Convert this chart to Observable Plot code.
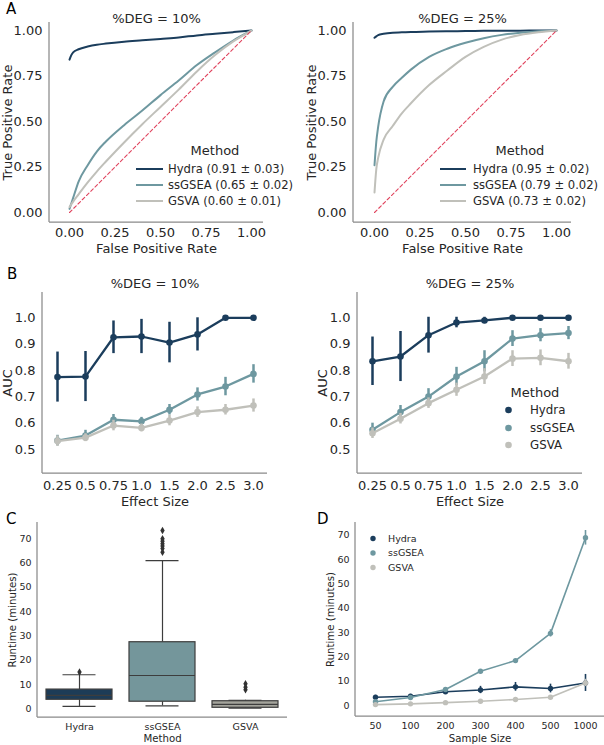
<!DOCTYPE html>
<html>
<head>
<meta charset="utf-8">
<script src="https://cdn.jsdelivr.net/npm/d3@7"></script>
<script src="https://cdn.jsdelivr.net/npm/@observablehq/plot@0.6"></script>
<style>
  html, body { margin: 0; padding: 0; background: #fff; }
  #fig { position: relative; width: 604px; height: 745px; overflow: hidden; font-family: "DejaVu Sans", sans-serif; }
  #fig > svg { position: absolute; left: 0; top: 0; }
</style>
</head>
<body>
<div id="fig"></div>
<script>
// ---------- shared categories & colours ----------
const methods = ["Hydra", "ssGSEA", "GSVA"];
const lineColors = ["#1b3d5c", "#6e98a0", "#c0c0ba"];
const boxFills = ["#1d3c57", "#74969b", "#a4a49c"];

// ---------- A: ROC curves (TPR read at a common FPR grid) ----------
const fprGrid = [0, 0.01, 0.02, 0.05, 0.1, 0.15, 0.2, 0.3, 0.4, 0.5, 0.6, 0.7, 0.8, 0.9, 1];
const tprHydra10  = [0.84, 0.865, 0.88, 0.897, 0.912, 0.922, 0.928, 0.938, 0.946, 0.954, 0.962, 0.973, 0.982, 0.991, 1];
const tprSsgsea10 = [0.02, 0.05, 0.08, 0.17, 0.26, 0.335, 0.39, 0.48, 0.56, 0.645, 0.725, 0.81, 0.88, 0.945, 1];
const tprGsva10   = [0.03, 0.045, 0.06, 0.1, 0.165, 0.225, 0.28, 0.385, 0.485, 0.58, 0.675, 0.775, 0.865, 0.94, 1];
const tprHydra25  = [0.96, 0.968, 0.975, 0.982, 0.988, 0.99, 0.992, 0.994, 0.996, 0.997, 0.998, 0.999, 0.999, 1, 1];
const tprSsgsea25 = [0.26, 0.39, 0.47, 0.61, 0.69, 0.74, 0.785, 0.855, 0.9, 0.933, 0.958, 0.976, 0.988, 0.996, 1];
const tprGsva25   = [0.11, 0.24, 0.3, 0.4, 0.475, 0.545, 0.6, 0.7, 0.78, 0.855, 0.91, 0.95, 0.975, 0.99, 1];
const chanceLine = [0, 1];
const aucMean10 = [0.91, 0.65, 0.60];
const aucSd10   = [0.03, 0.02, 0.01];
const aucMean25 = [0.95, 0.79, 0.73];
const aucSd25   = [0.02, 0.02, 0.02];
const rocTicks = [0, 0.25, 0.5, 0.75, 1];

// ---------- B: AUC vs effect size (mean and half-width of the error bar) ----------
const effectSizes = ["0.25", "0.5", "0.75", "1.0", "1.5", "2.0", "2.5", "3.0"];
const aucHydra10  = [0.775, 0.777, 0.926, 0.929, 0.906, 0.937, 1.0, 1.0];
const errHydra10  = [0.095, 0.095, 0.062, 0.065, 0.077, 0.063, 0.002, 0.002];
const aucSsgsea10 = [0.534, 0.553, 0.613, 0.607, 0.651, 0.709, 0.739, 0.787];
const errSsgsea10 = [0.02, 0.02, 0.02, 0.015, 0.02, 0.025, 0.035, 0.035];
const aucGsva10   = [0.532, 0.545, 0.591, 0.582, 0.61, 0.642, 0.651, 0.667];
const errGsva10   = [0.02, 0.015, 0.02, 0.015, 0.02, 0.02, 0.02, 0.025];
const aucHydra25  = [0.835, 0.853, 0.934, 0.982, 0.99, 1.0, 1.0, 1.0];
const errHydra25  = [0.092, 0.095, 0.068, 0.02, 0.012, 0.004, 0.002, 0.002];
const aucSsgsea25 = [0.575, 0.642, 0.701, 0.777, 0.835, 0.921, 0.934, 0.942];
const errSsgsea25 = [0.025, 0.025, 0.03, 0.035, 0.04, 0.03, 0.025, 0.025];
const aucGsva25   = [0.562, 0.617, 0.676, 0.727, 0.777, 0.845, 0.848, 0.835];
const errGsva25   = [0.02, 0.02, 0.02, 0.025, 0.03, 0.03, 0.03, 0.03];
const aucTicks = [0.5, 0.6, 0.7, 0.8, 0.9, 1.0];

// ---------- C: runtime box plot summary ----------
const boxQ1     = [3.7, 2.9, 0.4];
const boxMedian = [5.5, 13.7, 1.8];
const boxQ3     = [7.9, 27.4, 3.1];
const boxLow    = [0.95, 1.2, 0.3];
const boxHigh   = [14, 61, 3.5];
const outliersHydra  = [15.1];
const outliersSsgsea = [64.5, 66, 67, 68, 69, 70, 73.4];
const outliersGsva   = [7.8, 8.9, 10.3];
const runtimeTicks = [0, 10, 20, 30, 40, 50, 60, 70];

// ---------- D: runtime vs sample size ----------
const sampleSizes = ["50", "100", "200", "300", "400", "500", "1000"];
const runHydra  = [3.4, 3.8, 5.7, 6.4, 7.7, 7.0, 9.3];
const errRunHydra  = [0.8, 0.8, 0.8, 1.5, 1.8, 1.8, 3.5];
const runSsgsea = [1.6, 3.3, 6.6, 14.1, 18.5, 29.7, 69.0];
const errRunSsgsea = [0.3, 0.4, 0.6, 0.6, 0.6, 1.5, 3.0];
const runGsva   = [0.4, 0.7, 1.2, 1.8, 2.5, 3.4, 9.3];
const errRunGsva   = [0.1, 0.1, 0.2, 0.2, 0.3, 0.3, 1.5];

// ---------- helpers ----------
const textColor = "#262626";
const spineColor = "#8a8a8a";
const edgeColor = "#3d3d3d";
const chanceColor = "#e0445e";
const W = 604, H = 745;
const fmt2 = d3.format(".2f");
const fmt1 = d3.format(".1f");

const baseStyle = (size) => ({
  background: "transparent",
  fontFamily: "DejaVu Sans, sans-serif",
  fontSize: size + "px",
  color: textColor,
  overflow: "visible"
});

// centred text anchored to a side of the frame
const frameLabel = (str, frameAnchor, size, extra) =>
  Plot.text([str], {text: d => d, frameAnchor, textAnchor: "middle", lineAnchor: "middle",
    fontSize: size, fill: textColor, ...extra});

// left and bottom axis lines along the frame edges
const spines = () => (index, scales, values, dims) => {
  const {width, height, marginLeft, marginRight, marginTop, marginBottom} = dims;
  const g = d3.create("svg:g").attr("stroke", spineColor).attr("stroke-width", 1.25);
  g.append("line").attr("x1", marginLeft).attr("x2", marginLeft)
    .attr("y1", marginTop).attr("y2", height - marginBottom);
  g.append("line").attr("x1", marginLeft).attr("x2", width - marginRight)
    .attr("y1", height - marginBottom).attr("y2", height - marginBottom);
  return g.node();
};

// free-standing text in page coordinates
const pageText = (str, x, y, size, fill) => () =>
  d3.create("svg:text")
    .attr("x", x).attr("y", y).attr("dy", "0.35em")
    .attr("font-size", size).attr("fill", fill)
    .attr("text-anchor", "start")
    .text(str).node();

// legend: optional title plus one swatch (line or dot) and label per row
const legend = ({title, titleX, titleY, titleSize, labels, colors, rowsY, kind, x1, x2, textX, size, r}) => () => {
  const g = d3.create("svg:g").attr("font-size", size).attr("fill", textColor);
  if (title) g.append("text").attr("x", titleX).attr("y", titleY).attr("dy", "0.35em")
    .attr("font-size", titleSize).attr("text-anchor", "middle").text(title);
  labels.forEach((lab, i) => {
    const y = rowsY[i];
    if (kind === "line") {
      g.append("line").attr("x1", x1).attr("x2", x2).attr("y1", y).attr("y2", y)
        .attr("stroke", colors[i]).attr("stroke-width", 2);
    } else {
      g.append("circle").attr("cx", x1).attr("cy", y).attr("r", r).attr("fill", colors[i]);
    }
    g.append("text").attr("x", textX).attr("y", y).attr("dy", "0.35em")
      .attr("text-anchor", "start").text(lab);
  });
  return g.node();
};

const fig = document.getElementById("fig");
const color = {domain: methods, range: lineColors};

// ---------- panel A ----------
function rocPanel({curves, means, sds, margins, xDomain, title, legendPos}) {
  const rows = curves.flatMap((tpr, k) =>
    fprGrid.map((f, i) => ({method: methods[k], fpr: f, tpr: tpr[i]})));
  const labels = methods.map((m, i) => `${m} (${means[i].toFixed(2)} ± ${sds[i].toFixed(2)})`);
  return Plot.plot({
    width: W, height: H, ...margins,
    style: baseStyle(13),
    x: {domain: xDomain, ticks: rocTicks, tickFormat: fmt2, tickSize: 0, tickPadding: 5, label: null},
    y: {domain: [-0.055, 1.044], ticks: rocTicks, tickFormat: fmt2, tickSize: 0, tickPadding: 7, label: null},
    color,
    marks: [
      spines(),
      Plot.line(rows, {x: "fpr", y: "tpr", stroke: "method", z: "method", strokeWidth: 2, curve: "monotone-x"}),
      Plot.line(chanceLine, {x: d => d, y: d => d, stroke: chanceColor, strokeWidth: 1.1, strokeDasharray: "3.5,2.5"}),
      frameLabel(title, "top", 13, {dy: -4}),
      frameLabel("False Positive Rate", "bottom", 13, {dy: 26}),
      frameLabel("True Positive Rate", "left", 13, {rotate: -90, dx: -41.5}),
      legend({title: "Method", titleX: legendPos.titleX, titleY: 150, titleSize: 13, labels, colors: lineColors,
        rowsY: [169, 185, 201], kind: "line", x1: legendPos.x1, x2: legendPos.x2, textX: legendPos.textX, size: 11.6})
    ]
  });
}

fig.append(rocPanel({
  curves: [tprHydra10, tprSsgsea10, tprGsva10], means: aucMean10, sds: aucSd10,
  margins: {marginLeft: 49, marginRight: W - 263, marginTop: 22, marginBottom: H - 222},
  xDomain: [-0.1099, 1.066], title: "%DEG = 10%",
  legendPos: {titleX: 215, x1: 136, x2: 163, textX: 168}
}));
fig.append(rocPanel({
  curves: [tprHydra25, tprSsgsea25, tprGsva25], means: aucMean25, sds: aucSd25,
  margins: {marginLeft: 353, marginRight: W - 571, marginTop: 22, marginBottom: H - 222},
  xDomain: [-0.1154, 1.0824], title: "%DEG = 25%",
  legendPos: {titleX: 520, x1: 440, x2: 466, textX: 473}
}));

// ---------- panel B ----------
function aucPanel({series, margins, padding, title, withLegend}) {
  const rows = series.flatMap(([auc, err], k) =>
    effectSizes.map((e, i) => ({method: methods[k], effect: e, auc: auc[i], lo: auc[i] - err[i], hi: auc[i] + err[i]})));
  const marks = [spines()];
  methods.forEach(m => {
    const sub = rows.filter(d => d.method === m);
    marks.push(
      Plot.ruleX(sub, {x: "effect", y1: "lo", y2: "hi", stroke: "method", strokeWidth: 2.5}),
      Plot.line(sub, {x: "effect", y: "auc", stroke: "method", strokeWidth: 2.3}),
      Plot.dot(sub, {x: "effect", y: "auc", fill: "method", r: 3.3})
    );
  });
  marks.push(
    frameLabel(title, "top", 13, {dy: -9}),
    frameLabel("Effect Size", "bottom", 13, {dy: 28.5}),
    frameLabel("AUC", "left", 13, {rotate: -90, dx: -35})
  );
  if (withLegend) marks.push(legend({title: "Method", titleX: 535, titleY: 392, titleSize: 13, labels: methods,
    colors: lineColors, rowsY: [410, 428, 445], kind: "dot", x1: 508.5, textX: 530, size: 11.8, r: 3.3}));
  return Plot.plot({
    width: W, height: H, ...margins,
    style: baseStyle(13),
    x: {type: "point", domain: effectSizes, padding, tickSize: 0, tickPadding: 7, label: null},
    y: {domain: [0.409, 1.096], ticks: aucTicks, tickFormat: fmt1, tickSize: 0, tickPadding: 7, label: null},
    color,
    marks
  });
}

fig.append(aucPanel({
  series: [[aucHydra10, errHydra10], [aucSsgsea10, errSsgsea10], [aucGsva10, errGsva10]],
  margins: {marginLeft: 42, marginRight: W - 267, marginTop: 292, marginBottom: H - 473},
  padding: 0.45, title: "%DEG = 10%", withLegend: false
}));
fig.append(aucPanel({
  series: [[aucHydra25, errHydra25], [aucSsgsea25, errSsgsea25], [aucGsva25, errGsva25]],
  margins: {marginLeft: 357, marginRight: W - 582, marginTop: 292, marginBottom: H - 473},
  padding: 0.5, title: "%DEG = 25%", withLegend: true
}));

// ---------- panel C ----------
{
  const boxes = methods.map((m, i) => ({
    method: m, q1: boxQ1[i], median: boxMedian[i], q3: boxQ3[i], low: boxLow[i], high: boxHigh[i]
  }));
  const outliers = [
    ...outliersHydra.map(v => ({method: "Hydra", value: v})),
    ...outliersSsgsea.map(v => ({method: "ssGSEA", value: v})),
    ...outliersGsva.map(v => ({method: "GSVA", value: v}))
  ];
  fig.append(Plot.plot({
    width: W, height: H,
    marginLeft: 37, marginRight: W - 287, marginTop: 522, marginBottom: H - 717,
    style: baseStyle(9.5),
    x: {type: "band", domain: methods, paddingInner: 0.2, paddingOuter: 0.1, tickSize: 0, tickPadding: 6, label: null},
    y: {domain: [-3.6, 76.7], ticks: runtimeTicks, tickSize: 0, tickPadding: 6, label: null},
    color: {domain: methods, range: boxFills},
    marks: [
      spines(),
      Plot.ruleX(boxes, {x: "method", y1: "low", y2: "q1", stroke: edgeColor, strokeWidth: 1.2}),
      Plot.ruleX(boxes, {x: "method", y1: "q3", y2: "high", stroke: edgeColor, strokeWidth: 1.2}),
      Plot.tickY(boxes, {x: "method", y: "low", stroke: edgeColor, strokeWidth: 1.2, insetLeft: 16.5, insetRight: 16.5}),
      Plot.tickY(boxes, {x: "method", y: "high", stroke: edgeColor, strokeWidth: 1.2, insetLeft: 16.5, insetRight: 16.5}),
      Plot.barY(boxes, {x: "method", y1: "q1", y2: "q3", fill: "method", stroke: edgeColor, strokeWidth: 1.2}),
      Plot.tickY(boxes, {x: "method", y: "median", stroke: edgeColor, strokeWidth: 1.2}),
      Plot.dot(outliers, {x: "method", y: "value", symbol: "diamond", r: 2.3, fill: "#333333"}),
      frameLabel("Method", "bottom", 10.2, {dy: 21}),
      frameLabel("Runtime (minutes)", "left", 10.2, {rotate: -90, dx: -24.5})
    ]
  }));
}

// ---------- panel D ----------
{
  const series = [[runHydra, errRunHydra], [runSsgsea, errRunSsgsea], [runGsva, errRunGsva]];
  const rows = series.flatMap(([v, e], k) =>
    sampleSizes.map((s, i) => ({method: methods[k], size: s, value: v[i], lo: v[i] - e[i], hi: v[i] + e[i]})));
  const marks = [spines()];
  methods.forEach(m => {
    const sub = rows.filter(d => d.method === m);
    marks.push(
      Plot.ruleX(sub, {x: "size", y1: "lo", y2: "hi", stroke: "method", strokeWidth: 1.6}),
      Plot.line(sub, {x: "size", y: "value", stroke: "method", strokeWidth: 1.6}),
      Plot.dot(sub, {x: "size", y: "value", fill: "method", r: 2.7})
    );
  });
  marks.push(
    frameLabel("Sample Size", "bottom", 10.2, {dy: 22}),
    frameLabel("Runtime (minutes)", "left", 10.2, {rotate: -90, dx: -25}),
    legend({labels: methods, colors: lineColors, rowsY: [538.5, 553, 567.5], kind: "dot",
      x1: 373, textX: 388, size: 9.5, r: 2.7})
  );
  fig.append(Plot.plot({
    width: W, height: H,
    marginLeft: 355, marginRight: 0, marginTop: 522, marginBottom: H - 716,
    style: baseStyle(9.5),
    x: {type: "point", domain: sampleSizes, padding: 0.48, tickSize: 0, tickPadding: 6, label: null},
    y: {domain: [-4.5, 75.3], ticks: runtimeTicks, tickSize: 0, tickPadding: 6, label: null},
    color,
    marks
  }));
}

// ---------- panel letters ----------
fig.append(Plot.plot({
  width: W, height: H, margin: 0,
  style: baseStyle(15),
  x: {axis: null, domain: [0, 1]}, y: {axis: null, domain: [0, 1]},
  marks: [
    pageText("A", 6, 8.5, 15, "#000"),
    pageText("B", 7, 273.5, 15, "#000"),
    pageText("C", 6, 518.5, 15, "#000"),
    pageText("D", 317, 518.5, 15, "#000")
  ]
}));
</script>
</body>
</html>
